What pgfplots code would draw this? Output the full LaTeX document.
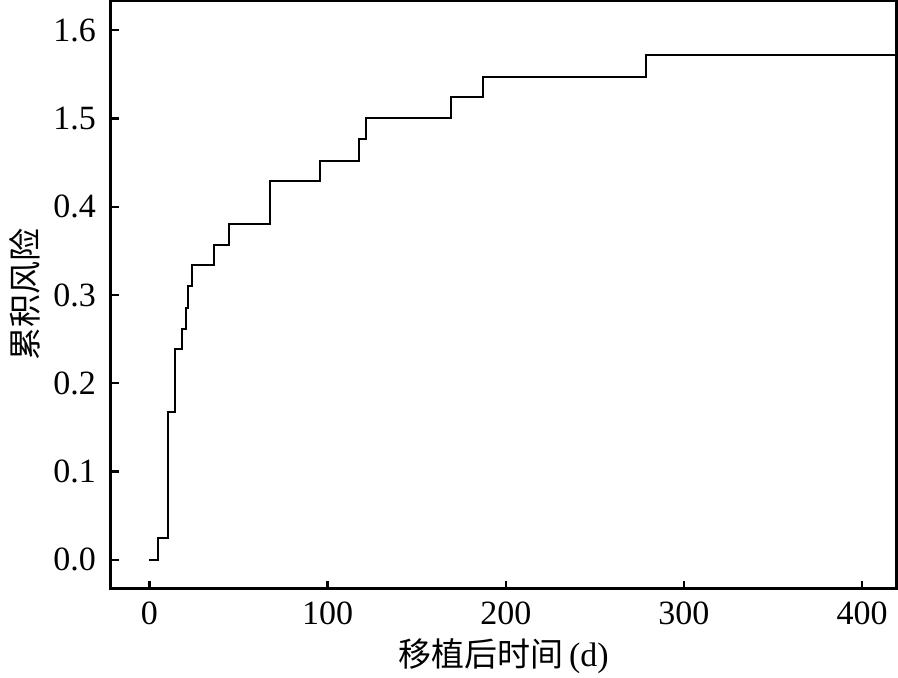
\documentclass[border=0pt]{standalone}
\usepackage{pgfplots}
\pgfplotsset{compat=1.18}
\usepackage{fontspec}
\setmainfont{Liberation Serif}
\newfontfamily\cjk{Noto Sans CJK SC}
\usetikzlibrary{calc}
\begin{document}
\begin{tikzpicture}
\begin{axis}[
    name=ax,
    scale only axis,
    width=392.5pt, height=294pt,
    xmin=-21.6, xmax=419,
    ymin=-0.033, ymax=0.633,
    xtick={0,100,200,300,400},
    ytick={0,0.1,0.2,0.3,0.4,0.5,0.6},
    yticklabels={0.0,0.1,0.2,0.3,0.4,1.5,1.6},
    /pgf/number format/assume math mode=true,
    tick align=inside,
    xtick pos=bottom, ytick pos=left,
    major tick length=4pt,
    axis line style={line width=1.5pt},
    every tick/.style={line width=1.2pt, black},
    tick label style={font=\fontsize{17}{17}\selectfont},
    xticklabel style={yshift=-3pt},
    yticklabel style={xshift=-4pt},
    xlabel={{\cjk\fontsize{16.5}{16.5}\selectfont 移植后时间}\fontsize{17}{17}\selectfont\,(d)},
    ylabel={\cjk\fontsize{16.5}{16.5}\selectfont 累积风险},
    xlabel style={yshift=0pt},
    ylabel style={yshift=0pt},
]
% cumulative hazard step function
\addplot[const plot, black, line width=1pt] coordinates {
    (0,0) (4.6,0.0246) (10.6,0.1676) (14.3,0.2386) (18.1,0.2616)
    (20.5,0.2854) (21.6,0.310) (23.8,0.334) (36.0,0.3567) (44.4,0.3805)
    (67.6,0.4292) (95.7,0.4519) (117.6,0.4764) (121.3,0.5006)
    (169.2,0.524) (187.0,0.5474) (278.4,0.5715) (430,0.5715)
};
\end{axis}
\pgfresetboundingbox
\path[use as bounding box] ($(ax.south west)+(-55.5pt,-44.5pt)$) rectangle ($(ax.north east)+(1pt,0.5pt)$);
\end{tikzpicture}
\end{document}
